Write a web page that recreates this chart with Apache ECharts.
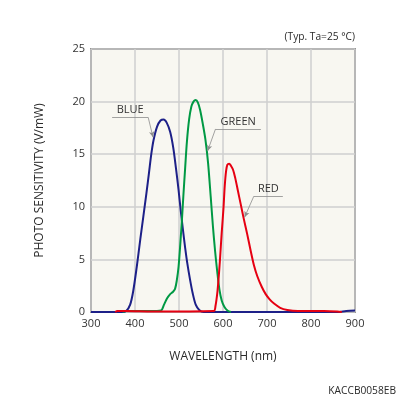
<!DOCTYPE html>
<html>
<head>
<meta charset="utf-8">
<script src="https://cdn.jsdelivr.net/npm/echarts@6/dist/echarts.min.js"></script>
<style>
  html, body { margin: 0; padding: 0; background: #fff; }
  #chart { width: 396px; height: 396px; }
</style>
</head>
<body>
<div id="chart"></div>
<script>
// wavelength (nm) / sensitivity (V/mW)
var blueX = [300, 370, 380, 389, 396, 404, 412, 419, 426, 432, 437, 442, 450, 458, 465, 472, 480, 487, 493, 499, 504, 509, 514, 519, 525, 531, 538, 546, 556, 860, 880, 900];
var blueY = [0, 0, 0.1, 0.7, 2, 4.3, 6.9, 9.1, 11.3, 13.3, 15, 16.3, 17.6, 18.2, 18.3, 18.0, 17.1, 15.6, 13.7, 11.6, 9.6, 7.8, 6.1, 4.6, 3.1, 1.8, 0.7, 0.2, 0, 0, 0.1, 0.15];

var greenX = [372, 380, 435, 459, 466, 473, 480, 486, 491, 495, 499, 503, 507, 510, 514, 518, 523, 528, 533, 538, 543, 548, 554, 560, 566, 572, 577, 582, 587, 592, 597, 603, 610, 618];
var greenY = [0, 0.1, 0.1, 0.15, 0.7, 1.3, 1.7, 1.9, 2.2, 3.0, 4.3, 6.5, 9.0, 11.1, 13.7, 16.2, 18.3, 19.5, 20.0, 20.15, 19.9, 19.2, 17.9, 16.4, 14.2, 11.0, 8.2, 5.8, 3.8, 2.1, 1.1, 0.5, 0.15, 0];

var redX = [355, 360, 380, 440, 579, 583, 587, 590, 593, 597, 601, 604, 607, 610, 614, 618, 623, 628, 634, 640, 647, 655, 663, 670, 678, 688, 697, 706, 716, 730, 746, 770, 830, 860, 870];
var redY = [0, 0.1, 0.1, 0.05, 0.1, 0.6, 1.8, 3.2, 4.9, 7.5, 9.8, 12.0, 13.4, 14.0, 14.1, 13.9, 13.5, 12.7, 11.5, 10.3, 8.9, 7.4, 5.8, 4.5, 3.4, 2.4, 1.7, 1.2, 0.8, 0.4, 0.2, 0.1, 0.1, 0.05, 0];

var xTicks = [300, 900, 100];
var yTicks = [0, 25, 5];

// label callouts: [name, underline start, underline end, arrow tip, side the leader leaves from]
var blueNote = ['BLUE', [348, 18.5], [430, 18.5], [441, 16.6], 'end'];
var greenNote = ['GREEN', [583, 17.4], [686, 17.4], [565, 15.3], 'start'];
var redNote = ['RED', [670, 11.0], [736, 11.0], [649, 9.0], 'start'];

function pairs(xs, ys) {
  var out = [];
  for (var i = 0; i < xs.length; i++) out.push([xs[i], ys[i]]);
  return out;
}

function note(n) {
  var from = n[4] === 'end' ? n[2] : n[1];
  return {
    silent: true,
    symbol: 'none',
    animation: false,
    lineStyle: { color: '#8c8c8c', width: 0.8, type: 'solid' },
    label: { show: false },
    emphasis: { disabled: true },
    data: [
      [
        { coord: n[1], label: { show: true, formatter: n[0], position: 'insideMiddleTop', distance: 2, color: '#333', fontSize: 11, fontFamily: 'Open Sans' } },
        { coord: n[2] }
      ],
      [
        { coord: from },
        { coord: n[3], symbol: 'arrow', symbolSize: [4, 6], itemStyle: { color: '#111' } }
      ]
    ]
  };
}

function line(name, data, color, n) {
  return {
    name: name,
    type: 'line',
    data: data,
    showSymbol: false,
    smooth: 0.3,
    lineStyle: { color: color, width: 2 },
    itemStyle: { color: color },
    animation: false,
    markLine: note(n)
  };
}

var chart = echarts.init(document.getElementById('chart'));
var option = {
  backgroundColor: '#fff',
  textStyle: { fontFamily: 'Open Sans' },
  title: [
    { text: '(Typ. Ta=25 °C)', right: 41, top: 32, padding: 0, textStyle: { fontSize: 10.2, fontWeight: 'normal', color: '#2a2a2a', fontFamily: 'Open Sans' } },
    { text: 'KACCB0058EB', right: 0, bottom: 0, padding: 0, textStyle: { fontSize: 10.2, fontWeight: 'normal', color: '#2a2a2a', fontFamily: 'Open Sans' } }
  ],
  grid: {
    left: 91, right: 41, top: 49, bottom: 84,
    show: true, backgroundColor: '#f8f7f1', borderColor: '#444', borderWidth: 1.5
  },
  xAxis: {
    type: 'value',
    min: xTicks[0], max: xTicks[1], interval: xTicks[2],
    name: 'WAVELENGTH (nm)',
    nameLocation: 'middle',
    nameGap: 39,
    nameTextStyle: { fontSize: 12, color: '#2a2a2a' },
    axisLine: { show: false },
    axisTick: { show: false },
    axisLabel: { margin: 6, fontSize: 11, color: '#333' },
    splitLine: { lineStyle: { color: '#cfcfcf', width: 1.5 } }
  },
  yAxis: {
    type: 'value',
    min: yTicks[0], max: yTicks[1], interval: yTicks[2],
    name: 'PHOTO SENSITIVITY (V/mW)',
    nameLocation: 'middle',
    nameGap: 45,
    nameTextStyle: { fontSize: 12, color: '#2a2a2a' },
    axisLine: { show: false },
    axisTick: { show: false },
    axisLabel: { margin: 6, fontSize: 11, color: '#333' },
    splitLine: { lineStyle: { color: '#cfcfcf', width: 1.5 } }
  },
  series: [
    line('BLUE', pairs(blueX, blueY), '#1d2088', blueNote),
    line('GREEN', pairs(greenX, greenY), '#009944', greenNote),
    line('RED', pairs(redX, redY), '#e60012', redNote)
  ]
};
chart.setOption(option);
</script>
</body>
</html>
